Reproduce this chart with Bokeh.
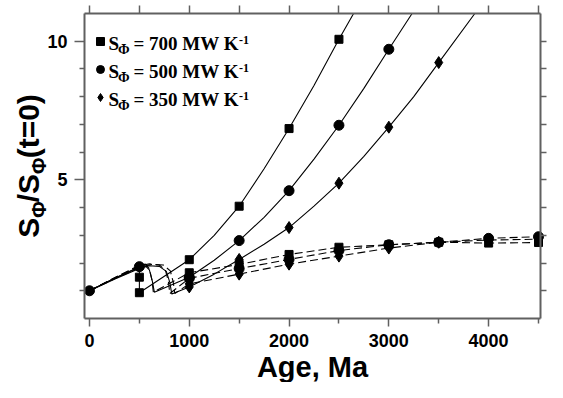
from bokeh.plotting import figure
from bokeh.models import Range1d, LinearAxis, FixedTicker, Label, Legend, LegendItem
from bokeh.embed import file_html
from bokeh.resources import INLINE

# ---------------- data (Age in Ma, S_phi / S_phi(t=0)) ----------------
# 700 MW/K  (squares)
sq_solid_age = [0, 250, 500, 500, 1000, 1250, 1500, 1750, 2000, 2250, 2500, 2647]
sq_solid_val = [1.0, 1.45, 1.85, 0.93, 2.12, 3.0, 4.05, 5.4, 6.85, 8.4, 10.07, 11.0]
sq_dash_age = [0, 250, 500, 560, 600, 625, 640, 1000, 1500, 2000, 2500, 3000, 3500, 4000, 4500]
sq_dash_val = [1.0, 1.47, 1.92, 1.96, 1.8, 1.4, 0.95, 1.65, 1.95, 2.31, 2.57, 2.66, 2.75, 2.72, 2.74]
sq_mark_age = [500, 500, 1000, 1500, 2000, 2500, 1000, 1500, 2000, 2500, 3000, 3500, 4000, 4500]
sq_mark_val = [1.49, 0.93, 2.12, 4.05, 6.85, 10.07, 1.65, 1.95, 2.31, 2.57, 2.66, 2.75, 2.72, 2.74]

# 500 MW/K  (circles)
ci_solid_age = [0, 250, 500, 560, 600, 630, 650, 1000, 1250, 1500, 1750, 2000, 2250, 2500, 2750, 3000, 3233]
ci_solid_val = [1.0, 1.44, 1.87, 1.9, 1.75, 1.35, 0.95, 1.49, 2.1, 2.81, 3.65, 4.61, 5.75, 6.97, 8.3, 9.71, 11.0]
ci_dash_age = [0, 250, 500, 600, 700, 760, 790, 805, 1000, 1500, 2000, 2500, 3000, 3500, 4000, 4500]
ci_dash_val = [1.0, 1.46, 1.9, 1.97, 1.93, 1.75, 1.35, 0.9, 1.45, 1.8, 2.13, 2.45, 2.66, 2.75, 2.89, 2.95]
ci_mark_age = [0, 500, 1000, 1500, 2000, 2500, 3000, 1000, 1500, 2000, 2500, 3000, 3500, 4000, 4500]
ci_mark_val = [1.0, 1.87, 1.49, 2.81, 4.61, 6.97, 9.71, 1.45, 1.8, 2.13, 2.45, 2.66, 2.75, 2.89, 2.95]

# 350 MW/K  (diamonds)
di_solid_age = [0, 250, 500, 600, 700, 770, 805, 825, 1000, 1250, 1500, 1750, 2000, 2250, 2500,
                2750, 3000, 3250, 3500, 3862]
di_solid_val = [1.0, 1.42, 1.8, 1.9, 1.88, 1.7, 1.3, 0.88, 1.14, 1.6, 2.13, 2.68, 3.28, 4.05, 4.88,
                5.85, 6.9, 8.0, 9.23, 11.0]
di_dash_age = [0, 250, 500, 620, 740, 810, 840, 855, 1000, 1500, 2000, 2500, 3000, 3500, 4000, 4500]
di_dash_val = [1.0, 1.43, 1.83, 1.95, 1.93, 1.72, 1.3, 0.9, 1.25, 1.6, 1.96, 2.25, 2.54, 2.75, 2.83, 2.86]
di_mark_age = [1000, 1500, 2000, 2500, 3000, 3500, 1000, 1500, 2000, 2500, 3000, 3500, 4000, 4500]
di_mark_val = [1.14, 2.13, 3.28, 4.88, 6.9, 9.23, 1.25, 1.6, 1.96, 2.25, 2.54, 2.75, 2.83, 2.86]

legend_values = ["700", "500", "350"]
x_major = [0, 1000, 2000, 3000, 4000]
x_minor = [500, 1500, 2500, 3500, 4500]
y_major = [5, 10]
y_minor = [1, 2, 3, 4, 6, 7, 8, 9]

# data extent of the plotting box
X0, X1, Y0, Y1 = -50, 4520, 0, 11

# ---------------- layout (pixels) ----------------
W, H = 547, 382
BOX_L, BOX_R, BOX_T, BOX_B = 84, 540, 13, 318
sx = (X1 - X0) / (BOX_R - BOX_L)
sy = (Y1 - Y0) / (BOX_B - BOX_T)
xr = Range1d(X0 - BOX_L * sx, X1 + (W - BOX_R) * sx)
yr = Range1d(Y0 - (H - BOX_B) * sy, Y1 + BOX_T * sy)
AX = "#606060"

p = figure(width=W, height=H, x_range=xr, y_range=yr,
           output_backend="svg", toolbar_location=None, x_axis_type=None, y_axis_type=None,
           min_border_left=0, min_border_right=0, min_border_top=0, min_border_bottom=0)
p.grid.visible = False
p.outline_line_color = None
p.background_fill_color = "white"
p.border_fill_color = "white"


def style_axis(ax, out, mout, show_labels):
    ax.axis_line_color = AX
    ax.axis_line_width = 2
    ax.major_tick_line_color = AX
    ax.minor_tick_line_color = AX
    ax.major_tick_line_width = 1.5
    ax.minor_tick_line_width = 1.5
    ax.major_tick_in = 0
    ax.minor_tick_in = 0
    ax.major_tick_out = out
    ax.minor_tick_out = mout
    if show_labels:
        ax.major_label_text_font = "Liberation Sans"
        ax.major_label_text_font_style = "bold"
        ax.major_label_text_font_size = "18px"
        ax.major_label_text_color = "black"
    else:
        ax.major_label_text_color = None
        ax.major_label_standoff = 0


bottom = LinearAxis(ticker=FixedTicker(ticks=x_major, minor_ticks=x_minor),
                    fixed_location=Y0, bounds=(X0, X1))
style_axis(bottom, 8, 5, True)
bottom.major_label_standoff = 7
p.add_layout(bottom, "below")

left = LinearAxis(ticker=FixedTicker(ticks=y_major, minor_ticks=y_minor),
                  fixed_location=X0, bounds=(Y0, Y1))
style_axis(left, 10, 5, True)
left.major_label_standoff = 7
p.add_layout(left, "left")

top = LinearAxis(ticker=FixedTicker(ticks=x_major + x_minor), fixed_location=Y1, bounds=(X0, X1))
style_axis(top, 8, 0, False)
p.add_layout(top, "above")

right = LinearAxis(ticker=FixedTicker(ticks=y_minor + y_major), fixed_location=X1, bounds=(Y0, Y1))
style_axis(right, 6, 0, False)
p.add_layout(right, "right")

# ---------------- lines & markers ----------------
for a, v in [(sq_solid_age, sq_solid_val), (ci_solid_age, ci_solid_val), (di_solid_age, di_solid_val)]:
    p.line(a, v, line_color="black", line_width=1.1)
for a, v in [(sq_dash_age, sq_dash_val), (ci_dash_age, ci_dash_val), (di_dash_age, di_dash_val)]:
    p.line(a, v, line_color="black", line_width=1.1, line_dash="8 4")

sq_r = p.scatter(sq_mark_age, sq_mark_val, marker="square", size=8, color="black")
ci_r = p.scatter(ci_mark_age, ci_mark_val, marker="circle", size=10, color="black")
di_r = p.scatter(di_mark_age, di_mark_val, marker="diamond", size=12, color="black")

# legend glyphs (labels composed below with sub/superscripts)
ROW = 28
leg_top = BOX_T + (BOX_B - BOX_T) / 11 - ROW / 2
legend = Legend(items=[LegendItem(label="", renderers=[sq_r]),
                       LegendItem(label="", renderers=[ci_r]),
                       LegendItem(label="", renderers=[di_r])],
                location=(BOX_L + 6, H - (leg_top + 3 * ROW)), glyph_width=20, glyph_height=ROW,
                label_height=ROW, label_width=1, label_text_font_size="1px",
                label_text_color=None, label_standoff=0, spacing=0, padding=0, margin=0,
                border_line_color=None, background_fill_alpha=0)
p.add_layout(legend, "center")


def add_text(txt, dx, dy_up, fs, font, angle=0.0, align="left"):
    p.add_layout(Label(x=X0, y=Y0, x_offset=dx, y_offset=dy_up, text=txt, angle=angle,
                       text_font=font, text_font_style="bold", text_font_size=fs,
                       text_color="black", text_align=align, text_baseline="middle"))


SERIF = "Liberation Serif"
for i, val in enumerate(legend_values):
    mid = BOX_B - (leg_top + ROW / 2 + 2.7 + ROW * i)   # cap-centre of the row text
    add_text("S", 24, mid, "19px", SERIF)
    add_text("\u03a6", 33.5, mid - 5.5, "14px", SERIF)
    add_text("= %s MW K" % val, 49, mid, "19px", SERIF)
    add_text("-1", 154.5, mid + 4, "12px", SERIF)

# ---------------- axis titles ----------------
SANS = "Liberation Sans"
add_text("Age, Ma", (BOX_R - BOX_L) / 2, BOX_B - 366, "29px", SANS, align="center")

ylab = [("S", "30px", 0, 20.0), ("\u03a6", "20px", 10.5, 15.6), ("/", "30px", 0, 8.3),
        ("S", "30px", 0, 20.0), ("\u03a6", "20px", 10.5, 15.6), ("(t=0)", "30px", 0, 64.2)]
total = sum(w for *_, w in ylab)
pos = (BOX_B - BOX_T) / 2 - total / 2
for txt, fs, shift, w in ylab:
    add_text(txt, 27.5 - BOX_L + shift, pos, fs, SANS, angle=1.5707963)
    pos += w

open("out.html", "w").write(file_html(p, INLINE))
